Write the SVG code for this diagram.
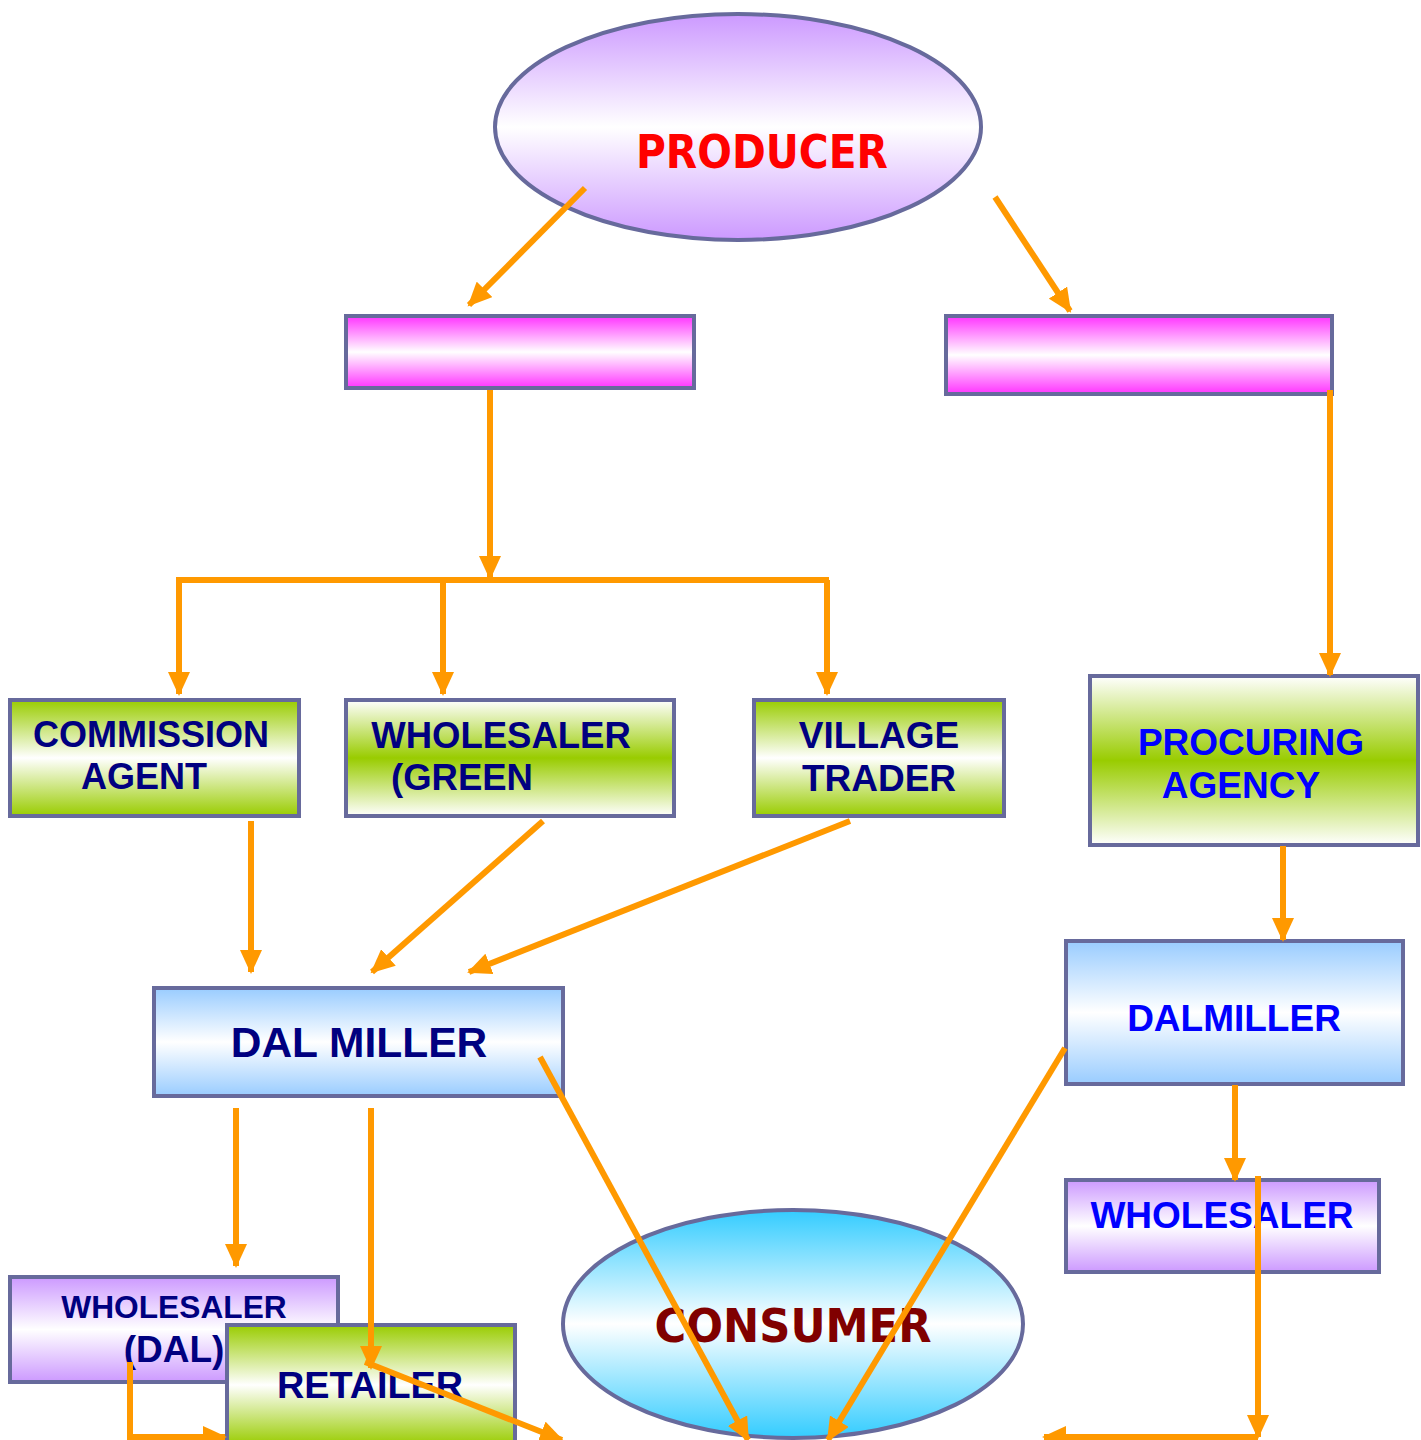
<svg xmlns="http://www.w3.org/2000/svg" width="1421" height="1440" viewBox="0 0 1421 1440">
<style>
.node{stroke:#676a9c;stroke-width:4}
.t{font-family:"Liberation Sans",Arial,sans-serif;font-weight:bold;text-anchor:middle}
.navy{fill:#000080}
.blue{fill:#0000ff}
.comic{font-family:"DejaVu Sans",sans-serif;font-weight:bold;text-anchor:middle}
.c{fill:none;stroke:#ff9900;stroke-width:6;marker-end:url(#ah)}
.cn{fill:none;stroke:#ff9900;stroke-width:6}
</style>
<defs>
<linearGradient id="gPurple" x1="0" y1="0" x2="0" y2="1">
<stop offset="0" stop-color="#cc99ff"/><stop offset="0.5" stop-color="#ffffff"/><stop offset="1" stop-color="#cc99ff"/>
</linearGradient>
<linearGradient id="gPink" x1="0" y1="0" x2="0" y2="1">
<stop offset="0" stop-color="#ff33ff"/><stop offset="0.5" stop-color="#ffffff"/><stop offset="1" stop-color="#ff33ff"/>
</linearGradient>
<linearGradient id="gGreen" x1="0" y1="0" x2="0" y2="1">
<stop offset="0" stop-color="#99cc00"/><stop offset="0.5" stop-color="#ffffff"/><stop offset="1" stop-color="#99cc00"/>
</linearGradient>
<linearGradient id="gGreenMid" x1="0" y1="0" x2="0" y2="1">
<stop offset="0" stop-color="#ffffff"/><stop offset="0.5" stop-color="#99cc00"/><stop offset="1" stop-color="#ffffff"/>
</linearGradient>
<linearGradient id="gBlue" x1="0" y1="0" x2="0" y2="1">
<stop offset="0" stop-color="#99ccff"/><stop offset="0.5" stop-color="#ffffff"/><stop offset="1" stop-color="#99ccff"/>
</linearGradient>
<linearGradient id="gCyan" x1="0" y1="0" x2="0" y2="1">
<stop offset="0" stop-color="#33ccff"/><stop offset="0.5" stop-color="#ffffff"/><stop offset="1" stop-color="#33ccff"/>
</linearGradient>
<marker id="ah" markerUnits="userSpaceOnUse" markerWidth="26" markerHeight="22" refX="22" refY="11" orient="auto">
<path d="M0,0 L24,11 L0,22 z" fill="#ff9900"/>
</marker>
</defs>
<rect width="1421" height="1440" fill="#ffffff"/>

<g id="producer">
<ellipse class="node" cx="738" cy="127" rx="243" ry="113" fill="url(#gPurple)"/>
<text class="comic" x="762" y="168" font-size="46" fill="#ff0000" textLength="252" lengthAdjust="spacingAndGlyphs">PRODUCER</text>
</g>
<g id="pink-left">
<rect class="node" x="346" y="316" width="348" height="72" fill="url(#gPink)"/>
</g>
<g id="pink-right">
<rect class="node" x="946" y="316" width="386" height="78" fill="url(#gPink)"/>
</g>
<g id="commission-agent">
<rect class="node" x="10" y="700" width="289" height="116" fill="url(#gGreen)"/>
<text class="t navy" x="151" y="747" font-size="36">COMMISSION</text>
<text class="t navy" x="144" y="789" font-size="36">AGENT</text>
</g>
<g id="wholesaler-green">
<rect class="node" x="346" y="700" width="328" height="116" fill="url(#gGreenMid)"/>
<text class="t navy" x="501" y="748" font-size="36.5">WHOLESALER</text>
<text class="t navy" x="462" y="790" font-size="36.5">(GREEN</text>
</g>
<g id="village-trader">
<rect class="node" x="754" y="700" width="250" height="116" fill="url(#gGreen)"/>
<text class="t navy" x="879" y="748" font-size="37">VILLAGE</text>
<text class="t navy" x="879" y="791" font-size="37">TRADER</text>
</g>
<g id="procuring-agency">
<rect class="node" x="1090" y="676" width="328" height="169" fill="url(#gGreenMid)"/>
<text class="t blue" x="1251" y="755" font-size="37">PROCURING</text>
<text class="t blue" x="1241" y="798" font-size="37">AGENCY</text>
</g>
<g id="dal-miller">
<rect class="node" x="154" y="988" width="409" height="108" fill="url(#gBlue)"/>
<text class="t navy" x="359" y="1057" font-size="42.5">DAL MILLER</text>
</g>
<g id="dalmiller-right">
<rect class="node" x="1066" y="941" width="337" height="143" fill="url(#gBlue)"/>
<text class="t blue" x="1234" y="1031" font-size="37">DALMILLER</text>
</g>
<g id="wholesaler-right">
<rect class="node" x="1066" y="1180" width="313" height="92" fill="url(#gPurple)"/>
<text class="t blue" x="1222" y="1228" font-size="37">WHOLESALER</text>
</g>
<g id="wholesaler-dal">
<rect class="node" x="10" y="1277" width="328" height="105" fill="url(#gPurple)"/>
<text class="t navy" x="174" y="1318" font-size="31.7">WHOLESALER</text>
<text class="t navy" x="174" y="1362" font-size="37">(DAL)</text>
</g>
<g id="retailer">
<rect class="node" x="227" y="1325" width="288" height="120" fill="url(#gGreen)"/>
<text class="t navy" x="370" y="1398" font-size="37.8">RETAILER</text>
</g>
<g id="consumer">
<ellipse class="node" cx="793" cy="1324" rx="230" ry="114" fill="url(#gCyan)"/>
<text class="comic" x="793" y="1342" font-size="46" fill="#800000" textLength="277" lengthAdjust="spacingAndGlyphs">CONSUMER</text>
</g>

<g id="connectors">
<line class="c" x1="585" y1="188" x2="469" y2="305"/>
<line class="c" x1="995" y1="197" x2="1070" y2="311"/>
<line class="c" x1="490" y1="390" x2="490" y2="578"/>
<line class="cn" x1="176" y1="580" x2="829" y2="580"/>
<line class="c" x1="179" y1="580" x2="179" y2="694"/>
<line class="c" x1="443" y1="580" x2="443" y2="694"/>
<line class="c" x1="827" y1="580" x2="827" y2="694"/>
<line class="c" x1="1330" y1="390" x2="1330" y2="675"/>
<line class="c" x1="251" y1="821" x2="251" y2="972"/>
<line class="c" x1="543" y1="821" x2="372" y2="972"/>
<line class="c" x1="850" y1="821" x2="469" y2="972"/>
<line class="c" x1="1283" y1="846" x2="1283" y2="940"/>
<line class="c" x1="236" y1="1108" x2="236" y2="1266"/>
<line class="c" x1="371" y1="1108" x2="371" y2="1368"/>
<line class="c" x1="365" y1="1362" x2="562" y2="1440"/>
<polyline class="c" points="130,1362 130,1437 225,1437"/>
<line class="c" x1="540" y1="1057" x2="748" y2="1440"/>
<line class="c" x1="1065" y1="1048" x2="828" y2="1440"/>
<line class="c" x1="1235" y1="1085" x2="1235" y2="1180"/>
<line class="c" x1="1258" y1="1176" x2="1258" y2="1437"/>
<line class="c" x1="1258" y1="1437" x2="1044" y2="1437"/>
</g>
</svg>
